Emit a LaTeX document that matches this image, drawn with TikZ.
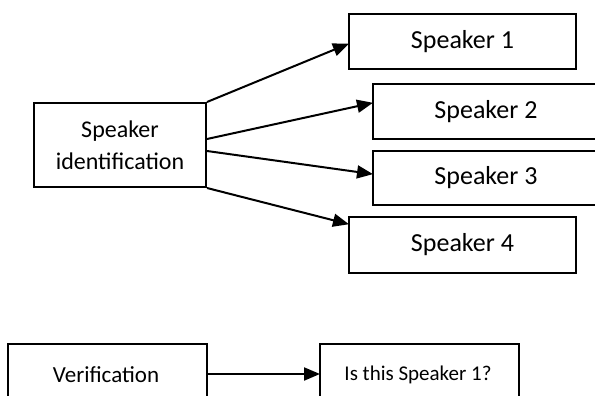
\documentclass[tikz,border=0pt]{standalone}
\usepackage{fontspec}
\setmainfont{Carlito}
\usetikzlibrary{arrows.meta}
\tikzset{
  box/.style={draw, line width=2pt, rectangle, inner sep=0pt, anchor=north west, align=center},
  big/.style={font=\fontsize{26}{32}\selectfont},
  arr/.style={line width=2pt, -{Triangle[length=16pt,width=13pt]}, shorten >=-1pt}
}
\begin{document}
\begin{tikzpicture}[x=1pt,y=-1pt]
\useasboundingbox (0,0) rectangle (595,396);
\clip (0,0) rectangle (595,396);
\node[box, font=\fontsize{24}{32}\selectfont, minimum width=172pt, minimum height=84pt] (ident) at (33,102) {Speaker\\identification};
\node[box, big, minimum width=227pt, minimum height=55pt] (s1) at (348,13) {Speaker 1};
\node[box, big, minimum width=226pt, minimum height=55pt] (s2) at (372,83) {Speaker 2};
\node[box, big, minimum width=226pt, minimum height=54pt] (s3) at (372,150) {Speaker 3};
\node[box, big, minimum width=227pt, minimum height=56pt] (s4) at (348,216) {Speaker 4};
\node[box, minimum width=199pt, minimum height=62pt] (ver) at (7,343) {};
\node[font=\fontsize{23}{32}\selectfont, anchor=base] (vert) at (106,382) {Verification};
\node[box, minimum width=199pt, minimum height=62pt] (q) at (319,343) {};
\node[font=\fontsize{21}{26}\selectfont, anchor=base] (qt) at (418,380) {Is this Speaker 1?};
\draw[arr] (ident.north east) -- ([yshift=-2.5pt]s1.west);
\draw[arr] ([yshift=6pt]ident.east) -- ([yshift=8.5pt]s2.west);
\draw[arr] ([yshift=-6pt]ident.east) -- ([yshift=4pt]s3.west);
\draw[arr] (ident.south east) -- ([yshift=21pt]s4.west);
\draw[arr] ([yshift=-31pt]ver.north east) -- ([yshift=-31pt]q.north west);
\end{tikzpicture}
\end{document}
